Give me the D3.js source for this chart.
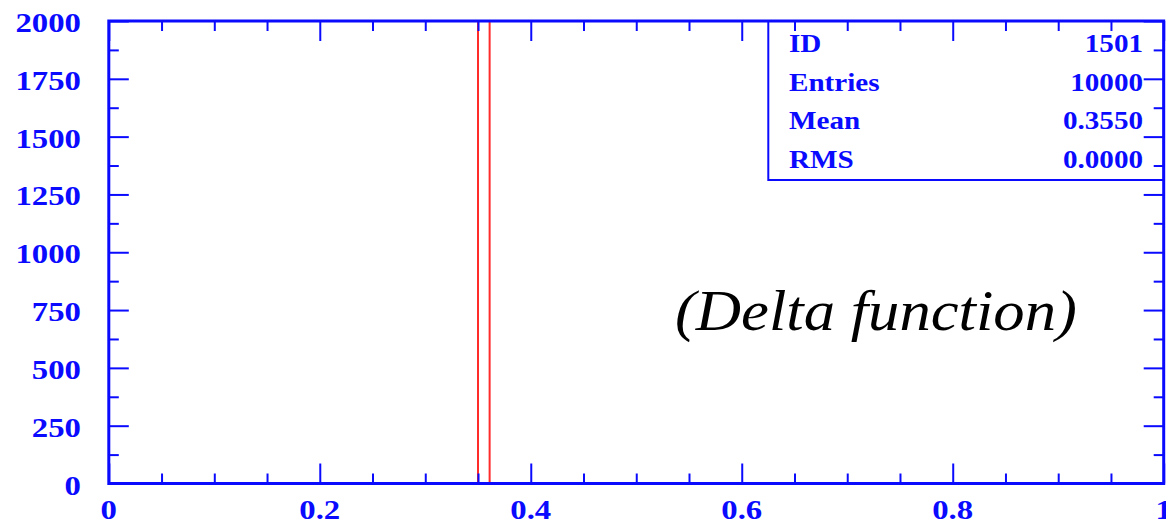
<!DOCTYPE html>
<html>
<head>
<meta charset="utf-8">
<script src="https://cdn.jsdelivr.net/npm/d3@7"></script>
<style>
  body { margin: 0; background: #fff; }
  svg { display: block; }
</style>
</head>
<body>
<div id="chart"></div>
<script>
// histogram data (one filled bin, far above the y range)
const binEdges = [0.35, 0.361];
const binCounts = [10000];

// axis ticks
const xMajor = [0, 0.2, 0.4, 0.6, 0.8, 1];
const xMinor = [0.05, 0.1, 0.15, 0.25, 0.3, 0.35, 0.45, 0.5, 0.55, 0.65, 0.7, 0.75, 0.85, 0.9, 0.95];
const yMajor = [0, 250, 500, 750, 1000, 1250, 1500, 1750, 2000];
const yMinor = [125, 375, 625, 875, 1125, 1375, 1625, 1875];

// stats box
const statNames = ["ID", "Entries", "Mean", "RMS"];
const statValues = ["1501", "10000", "0.3550", "0.0000"];

const note = "(Delta function)";

// SVG DIMENSIONS
let width = 1166;
let height = 526;
let plotL = 108.8, plotR = 1163.7, plotT = 21, plotB = 483.5;
const blue = "#0a0aff";

let svg = d3
  .select("#chart")
  .append("svg")
  .attr("width", width)
  .attr("height", height);

let xScale = d3.scaleLinear().domain([0, 1]).range([plotL, plotR]);
let yScale = d3.scaleLinear().domain([0, 2000]).range([plotB, plotT]);

svg.append("clipPath").attr("id", "frame")
  .append("rect")
  .attr("x", plotL).attr("y", plotT)
  .attr("width", plotR - plotL).attr("height", plotB - plotT);

// stats box (under the ticks)
let boxLeft = 768.3, boxBottom = 180;
svg.append("rect")
  .attr("x", boxLeft).attr("y", plotT)
  .attr("width", plotR - boxLeft).attr("height", boxBottom - plotT)
  .attr("fill", "#fff")
  .attr("stroke", blue)
  .attr("stroke-width", 2);

let rowY = [51.7, 90.7, 129, 168];
let stats = svg.append("g")
  .attr("font-family", "'Liberation Serif', 'Times New Roman', serif")
  .attr("font-weight", "bold")
  .attr("font-size", 26)
  .attr("fill", blue);
statNames.forEach((name, i) => {
  stats.append("text")
    .attr("transform", `translate(789,${rowY[i]}) scale(1.12,1)`)
    .text(name);
  stats.append("text")
    .attr("transform", `translate(1143,${rowY[i]}) scale(1.12,1)`)
    .attr("text-anchor", "end")
    .text(statValues[i]);
});

// histogram outline
let histLine = d3.line().x((d) => d[0]).y((d) => d[1]);
let pts = [[xScale(binEdges[0]), yScale(0)]];
binCounts.forEach((c, i) => {
  pts.push([xScale(binEdges[i]), yScale(c)]);
  pts.push([xScale(binEdges[i + 1]), yScale(c)]);
});
pts.push([xScale(binEdges[binEdges.length - 1]), yScale(0)]);
svg.append("path")
  .attr("clip-path", "url(#frame)")
  .attr("d", histLine(pts))
  .attr("fill", "none")
  .attr("stroke", "#ff2a2a")
  .attr("stroke-width", 2);

// ticks on all four sides, pointing inward
function ticks(axis, pos, vals, size) {
  let g = svg.append("g")
    .attr("transform", pos)
    .call(axis.tickValues(vals).tickSize(-size).tickFormat(""));
  g.select(".domain").remove();
  g.selectAll("line").attr("stroke", blue).attr("stroke-width", 2);
}
ticks(d3.axisBottom(xScale), `translate(0,${plotB})`, xMajor, 20);
ticks(d3.axisBottom(xScale), `translate(0,${plotB})`, xMinor, 10);
ticks(d3.axisTop(xScale), `translate(0,${plotT})`, xMajor, 20);
ticks(d3.axisTop(xScale), `translate(0,${plotT})`, xMinor, 10);
ticks(d3.axisLeft(yScale), `translate(${plotL},0)`, yMajor, 20);
ticks(d3.axisLeft(yScale), `translate(${plotL},0)`, yMinor, 10);
ticks(d3.axisRight(yScale), `translate(${plotR},0)`, yMajor, 20);
ticks(d3.axisRight(yScale), `translate(${plotR},0)`, yMinor, 10);

// frame
svg.append("rect")
  .attr("x", plotL).attr("y", plotT)
  .attr("width", plotR - plotL).attr("height", plotB - plotT)
  .attr("fill", "none")
  .attr("stroke", blue)
  .attr("stroke-width", 3);

// tick labels
let labels = svg.append("g")
  .attr("font-family", "'Liberation Serif', 'Times New Roman', serif")
  .attr("font-weight", "bold")
  .attr("font-size", 28)
  .attr("fill", blue);

labels.selectAll(".ylab")
  .data(yMajor)
  .enter()
  .append("text")
  .attr("class", "ylab")
  .attr("text-anchor", "end")
  .attr("transform", (d) => `translate(81,${yScale(d) + 11}) scale(1.17,1)`)
  .text((d) => d);

labels.selectAll(".xlab")
  .data(xMajor)
  .enter()
  .append("text")
  .attr("class", "xlab")
  .attr("text-anchor", "middle")
  .attr("transform", (d) => `translate(${xScale(d)},518.5) scale(1.17,1)`)
  .text((d) => d);

// annotation
svg.append("text")
  .attr("transform", "translate(675,330) scale(1.08,1)")
  .attr("font-family", "'Liberation Serif', 'Times New Roman', serif")
  .attr("font-style", "italic")
  .attr("font-size", 58)
  .attr("fill", "#000")
  .text(note);
</script>
</body>
</html>
